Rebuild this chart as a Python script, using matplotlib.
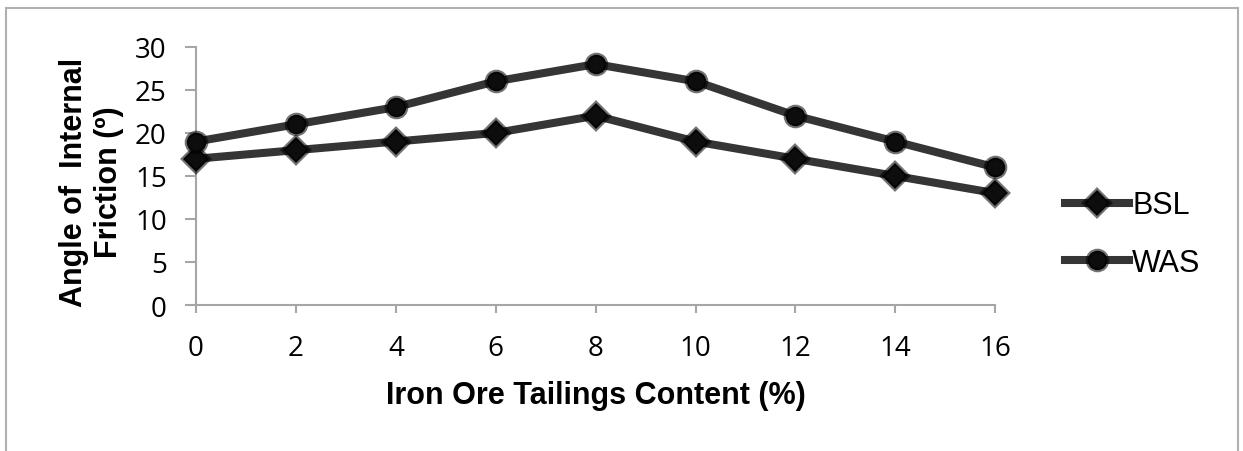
import matplotlib
matplotlib.use("Agg")
import matplotlib.pyplot as plt
from matplotlib.patches import Rectangle

# Data
content = [0, 2, 4, 6, 8, 10, 12, 14, 16]
bsl = [17, 18, 19, 20, 22, 19, 17, 15, 13]
was = [19, 21, 23, 26, 28, 26, 22, 19, 16]
y_ticks = [0, 5, 10, 15, 20, 25, 30]

LINE_COLOR = "#353535"
AXIS_COLOR = "#a6a6a6"
TICK_FONT = "Open Sans"
LABEL_FONT = "Liberation Sans"
HALO = (0, 0, 0, 0.55)

fig = plt.figure(figsize=(12.43, 4.52), dpi=100)
ax = fig.add_axes([0.1577, 0.323, 0.643, 0.571])

# Outer chart border
fig.patches.append(Rectangle((6 / 1243, -0.05), 1232 / 1243, 1.05 - 9 / 452,
                             transform=fig.transFigure, fill=False,
                             edgecolor="#b0b0b0", linewidth=1.5))

ax.plot(content, bsl, color=LINE_COLOR, linewidth=5.8, marker="D",
        markersize=13, markerfacecolor="#0d0d0d", markeredgecolor=HALO,
        markeredgewidth=3, clip_on=False, label="BSL", zorder=3)
ax.plot(content, was, color=LINE_COLOR, linewidth=5.8, marker="o",
        markersize=14, markerfacecolor="#0d0d0d", markeredgecolor=HALO,
        markeredgewidth=3, clip_on=False, label="WAS", zorder=3)

ax.set_xlim(0, 16)
ax.set_ylim(0, 30)
ax.set_xticks(content)
ax.set_yticks(y_ticks)

for side in ["top", "right"]:
    ax.spines[side].set_visible(False)
for side in ["left", "bottom"]:
    ax.spines[side].set_color(AXIS_COLOR)
    ax.spines[side].set_linewidth(1.5)

ax.tick_params(axis="both", direction="out", width=1.5,
               color=AXIS_COLOR, labelsize=20)
ax.tick_params(axis="x", length=6, pad=15)
ax.tick_params(axis="y", length=8, pad=13)
for lbl in ax.get_xticklabels() + ax.get_yticklabels():
    lbl.set_fontfamily(TICK_FONT)

ax.set_xlabel("Iron Ore Tailings Content (%)", fontsize=22, fontweight="bold",
              fontfamily=LABEL_FONT)
ax.xaxis.set_label_coords(0.5, -0.29)
ax.set_ylabel("Angle of  Internal\nFriction (º)", fontsize=22,
              fontweight="bold", fontfamily=LABEL_FONT, linespacing=1.2)
ax.yaxis.set_label_coords(-0.09, 0.48)

fig.legend(loc="center left", bbox_to_anchor=(0.847, 0.48), frameon=False,
           prop={"family": LABEL_FONT, "size": 22}, handlelength=2.1,
           handletextpad=0.1, labelspacing=0.9, borderaxespad=0)

fig.savefig("out.png", dpi=100, facecolor="white")
